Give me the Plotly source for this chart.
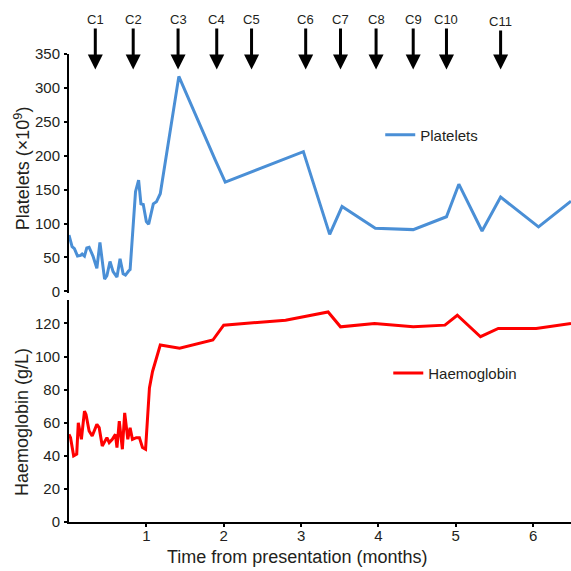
import plotly.graph_objects as go
from plotly.subplots import make_subplots

# ---- data ----
platelet_months = [0, 0.04, 0.07, 0.11, 0.15, 0.17, 0.2, 0.23, 0.26, 0.31, 0.36, 0.4,
                   0.46, 0.49, 0.53, 0.57, 0.62, 0.66, 0.7, 0.73, 0.77, 0.79, 0.86,
                   0.9, 0.93, 0.96, 1.0, 1.03, 1.09, 1.13, 1.18, 1.42, 1.89, 2.02,
                   3.03, 3.37, 3.53, 3.96, 4.45, 4.88, 5.04, 5.34, 5.58, 6.07, 6.49]
platelets = [83, 66, 63, 52, 53, 55, 52, 64, 65, 52, 34, 72,
             18, 23, 44, 29, 21, 48, 26, 24, 30, 32, 147,
             164, 129, 128, 103, 99, 129, 132, 144, 317, 194, 161,
             206, 84, 125, 93, 91, 110, 158, 89, 139, 95, 133]

hb_months = [0, 0.02, 0.06, 0.1, 0.12, 0.16, 0.2, 0.22, 0.26, 0.3, 0.36, 0.39,
             0.43, 0.49, 0.52, 0.56, 0.6, 0.62, 0.65, 0.69, 0.72, 0.76, 0.79,
             0.82, 0.87, 0.91, 0.95, 0.99, 1.04, 1.08, 1.18, 1.43, 1.86, 2.0,
             2.8, 3.35, 3.51, 3.95, 4.45, 4.86, 5.02, 5.32, 5.55, 6.04, 6.49]
haemoglobin = [53, 51, 40, 41, 60, 50, 67, 65, 55, 52, 59, 57,
               46, 51, 48, 50, 53, 45, 61, 44, 66, 50, 57,
               50, 51, 51, 45, 44, 81, 91, 107, 105, 110, 119,
               122, 127, 118, 120, 118, 119, 125, 112, 117, 117, 120]

cycle_labels = ["C1", "C2", "C3", "C4", "C5", "C6", "C7", "C8", "C9", "C10", "C11"]
cycle_months = [0.34, 0.83, 1.41, 1.91, 2.36, 3.06, 3.51, 3.97, 4.45, 4.88, 5.58]

x_ticks = [1, 2, 3, 4, 5, 6]
plt_ticks = [0, 50, 100, 150, 200, 250, 300, 350]
hb_ticks = [0, 20, 40, 60, 80, 100, 120]

FONT = "Liberation Sans, Arial, Helvetica, sans-serif"
TXT = "#231f20"

fig = make_subplots(rows=2, cols=1, shared_xaxes=True, vertical_spacing=0.0149,
                    row_heights=[0.5192, 0.4808])

fig.add_trace(go.Scatter(x=platelet_months, y=platelets, mode="lines", name="Platelets",
                         line=dict(color="#4a8fd6", width=3), legend="legend",
                         showlegend=True),
              row=1, col=1)
fig.add_trace(go.Scatter(x=hb_months, y=haemoglobin, mode="lines", name="Haemoglobin",
                         line=dict(color="#ff0000", width=3), legend="legend2",
                         showlegend=True),
              row=2, col=1)

axis_common = dict(showgrid=False, zeroline=False, showline=True, linecolor="black",
                   linewidth=2, ticks="outside", ticklen=3, tickwidth=1.5,
                   tickcolor="black", tickfont=dict(family=FONT, size=15, color=TXT))

fig.update_xaxes(range=[0, 6.49], tickvals=x_ticks, ticklabelstandoff=-4, **axis_common)
fig.update_xaxes(showline=False, ticks="", row=1, col=1)
fig.update_yaxes(ticklabelstandoff=1, **axis_common)
fig.update_yaxes(range=[-3, 350], tickvals=plt_ticks, row=1, col=1)
fig.update_yaxes(range=[0, 134], tickvals=hb_ticks, row=2, col=1)

annotations = []
for lab, m in zip(cycle_labels, cycle_months):
    annotations.append(dict(
        x=m, y=327, xref="x", yref="y", text=lab, showarrow=True,
        ax=0, ay=-50 if lab != "C11" else -48, axref="pixel", ayref="pixel",
        arrowhead=2, arrowsize=1, arrowwidth=3, arrowcolor="black",
        font=dict(family=FONT, size=13, color=TXT)))

annotations += [
    dict(text="Platelets (×10<sup>9</sup>)", x=-0.0936, y=0.756, xref="paper", yref="paper",
         textangle=-90, showarrow=False, xanchor="center", yanchor="middle",
         font=dict(family=FONT, size=18, color=TXT)),
    dict(text="Haemoglobin (g/L)", x=-0.0936, y=0.2137, xref="paper", yref="paper",
         textangle=-90, showarrow=False, xanchor="center", yanchor="middle",
         font=dict(family=FONT, size=18, color=TXT)),
    dict(text="Time from presentation (months)", x=0.454, y=-0.0748, xref="paper", yref="paper",
         showarrow=False, xanchor="center", yanchor="middle",
         font=dict(family=FONT, size=18, color=TXT)),
]

fig.update_layout(
    width=571, height=571,
    margin=dict(l=69, r=0, t=54, b=49),
    paper_bgcolor="white", plot_bgcolor="white",
    font=dict(family=FONT, color=TXT),
    showlegend=True,
    annotations=annotations,
    legend=dict(x=0.62, y=0.827, xanchor="left", yanchor="middle", visible=True,
                bgcolor="rgba(0,0,0,0)", font=dict(family=FONT, size=15, color=TXT)),
    legend2=dict(x=0.636, y=0.318, xanchor="left", yanchor="middle", visible=True,
                 bgcolor="rgba(0,0,0,0)", font=dict(family=FONT, size=15, color=TXT)),
)

fig.write_html("out.html", config={"displayModeBar": False},
               post_script="document.body.style.margin='0px';document.body.style.padding='0px';")
